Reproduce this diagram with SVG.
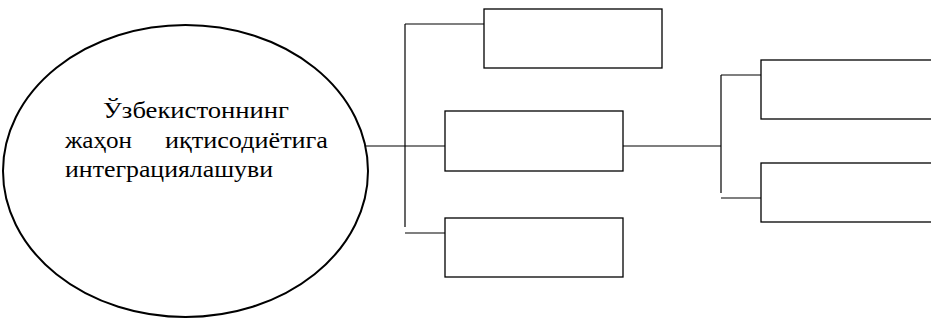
<svg xmlns="http://www.w3.org/2000/svg" width="931" height="320" viewBox="0 0 931 320">
<style>
.box{fill:#fff;stroke:#000;stroke-width:1.3}
.ln{fill:none;stroke:#000;stroke-width:1.2}
</style>
<rect width="931" height="320" fill="#fff"/>
<g id="connectors">
<path class="ln" d="M366,146 H445"/>
<path class="ln" d="M405,24 V227"/>
<path class="ln" d="M405,24 H484"/>
<path class="ln" d="M405,233 H445"/>
<path class="ln" d="M623,146 H721"/>
<path class="ln" d="M721,75 V193"/>
<path class="ln" d="M721,75 H761"/>
<path class="ln" d="M721,198 H761"/>
</g>
<g id="main">
<ellipse cx="185.5" cy="171" rx="182.5" ry="146" fill="#fff" stroke="#000" stroke-width="2"/>
<g font-family="Liberation Serif, Times New Roman, serif" font-size="24" fill="#000">
<text x="103" y="118" textLength="186" lengthAdjust="spacingAndGlyphs">Ўзбекистоннинг</text>
<text x="65" y="148" textLength="67" lengthAdjust="spacingAndGlyphs">жаҳон</text>
<text x="165" y="148" textLength="163" lengthAdjust="spacingAndGlyphs">иқтисодиётига</text>
<text x="65" y="177" textLength="208" lengthAdjust="spacingAndGlyphs">интеграциялашуви</text>
</g>
</g>
<g id="box1"><rect class="box" x="484" y="9" width="178" height="59"/></g>
<g id="box2"><rect class="box" x="445" y="111" width="178" height="60"/></g>
<g id="box3"><rect class="box" x="445" y="218" width="178" height="59"/></g>
<g id="box4"><rect class="box" x="761" y="60" width="180" height="59"/></g>
<g id="box5"><rect class="box" x="761" y="163" width="180" height="59"/></g>
</svg>
